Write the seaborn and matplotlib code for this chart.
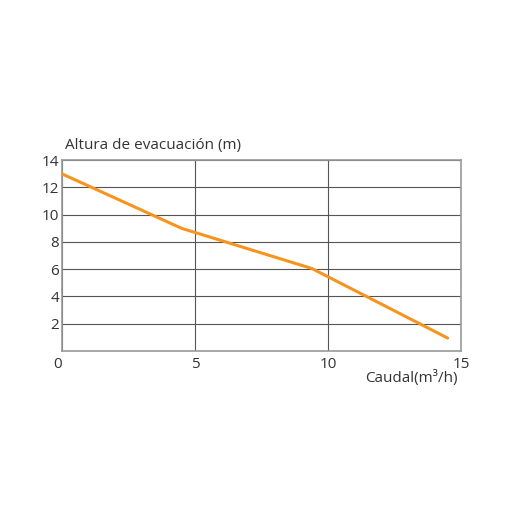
import matplotlib
matplotlib.use("Agg")
import matplotlib.pyplot as plt
import pandas as pd
import seaborn as sns

# Pump curve
caudal = [0.0, 4.5, 9.4, 14.5]
altura = [13.0, 9.0, 6.05, 0.95]
x_ticks = [0, 5, 10, 15]
y_ticks = [2, 4, 6, 8, 10, 12, 14]

TEXT = "#333333"
ORANGE = "#F7941D"

sns.set_style("white")
plt.rcParams["font.family"] = ["Open Sans", "DejaVu Sans"]

df = pd.DataFrame({"caudal": caudal, "altura": altura})

fig = plt.figure(figsize=(5.2, 5.2), dpi=100)
ax = fig.add_axes([0.119, 0.325, 0.7675, 0.367])

sns.lineplot(data=df, x="caudal", y="altura", color=ORANGE, linewidth=2.2, ax=ax, zorder=3)

ax.set_xlim(0, 15)
ax.set_ylim(0, 14)
ax.set_xticks(x_ticks)
ax.set_yticks(y_ticks)
ax.grid(True, color="#555555", linewidth=0.8)
ax.set_axisbelow(True)
for side, sp in ax.spines.items():
    sp.set_visible(True)
    sp.set_color("#999999")
    sp.set_linewidth(1.2)

ax.tick_params(axis="both", length=0, labelsize=11, labelcolor=TEXT)
ax.tick_params(axis="x", pad=4)
ax.tick_params(axis="y", pad=2)
# the x "0" sits a little left of the corner
for lbl in ax.get_xticklabels():
    if lbl.get_text() == "0":
        lbl.set_horizontalalignment("right")

ax.set_xlabel("")
ax.set_ylabel("")
fig.text(65 / 520, 1 - 145 / 520, "Altura de evacuación (m)", fontsize=11,
         color=TEXT, ha="left", va="center")
fig.text(458 / 520, 1 - 378 / 520, "Caudal(m³/h)", fontsize=11,
         color=TEXT, ha="right", va="center")

fig.savefig("out.png", dpi=100, facecolor="white")
